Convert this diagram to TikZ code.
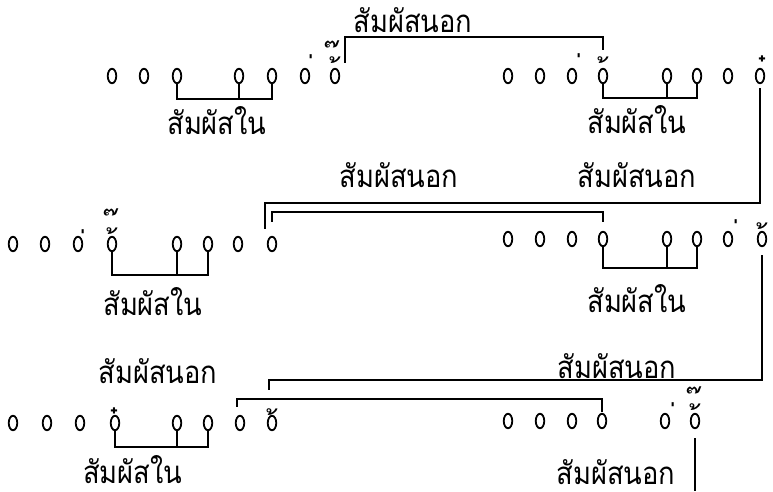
\documentclass[tikz,border=0pt]{standalone}
\usepackage{fontspec}
\usepackage{graphicx}
\newfontfamily\thai[Script=Thai]{Loma}
\usetikzlibrary{shapes.geometric}
\newcommand\tmk[4]{\node[tm] (#1) at (#2+4.6,#3+31) {\char"#4};}
\newcommand\lab[1]{\raisebox{0pt}[\height][0pt]{\scalebox{1.05}[1.2]{#1}}}
\begin{document}
\begin{tikzpicture}[x=1pt,y=-1pt,
  syl/.style={draw, ellipse, line width=1.8pt, minimum width=8.5pt, minimum height=14.5pt, inner sep=0pt},
  rl/.style={line width=1.8pt},
  lbl/.style={font=\thai\fontsize{26}{26}\selectfont, anchor=base, inner sep=0pt},
  tm/.style={font=\thai\fontsize{30}{30}\selectfont, anchor=base, inner sep=0pt}]
\useasboundingbox[fill=white] (0,0) rectangle (773,491);
% row 1 left
\foreach \n/\x in {1/112,2/144,3/177,4/239,5/272,6/305,7/335}
  \node[syl] (a\n) at (\x,76) {};
% row 1 right
\foreach \n/\x in {1/508,2/540,3/572,4/603,5/667,6/697,7/728,8/760}
  \node[syl] (b\n) at (\x,76) {};
% row 2 left
\foreach \n/\x in {1/13,2/45,3/78,4/112,5/177,6/208,7/238,8/272}
  \node[syl] (c\n) at (\x,244) {};
% row 2 right
\foreach \n/\x in {1/508,2/540,3/572,4/603,5/667,6/697,7/728,8/762}
  \node[syl] (d\n) at (\x,239) {};
% row 3 left
\foreach \n/\x in {1/13,2/47,3/80,4/115,5/177,6/208,7/240,8/272}
  \node[syl] (e\n) at (\x,423) {};
% row 3 right
\foreach \n/\x in {1/508,2/540,3/572,4/602,5/665,6/695}
  \node[syl] (f\n) at (\x,421) {};
% tone marks
\tmk{ta6}{310}{54}{0E48}
\tmk{ta7}{335}{57}{0E49}
\tmk{ta7t}{333}{41}{0E4A}
\tmk{tb3}{578}{53}{0E48}
\tmk{tb4}{603}{57}{0E49}
\tmk{tb8}{763}{55}{0E4B}
\tmk{tc3}{82}{229}{0E48}
\tmk{tc4}{112}{228}{0E49}
\tmk{tc4t}{112}{209}{0E4A}
\tmk{td7}{735}{219}{0E48}
\tmk{td8}{762}{223}{0E49}
\tmk{te4}{115}{407}{0E4B}
\tmk{te8}{272}{409}{0E49}
\tmk{tf5}{672}{402}{0E48}
\tmk{tf6}{695}{404}{0E49}
\tmk{tf6t}{695}{387}{0E4A}
% connectors
\draw[rl] ([xshift=10pt,yshift=5pt]a7.north) |- (b4.center |- 0,37) -- (b4.center |- 0,50);
\draw[rl] (a3.south) |- (a5.south |- 0,99) -- (a5.south);
\draw[rl] (a4.south) -- (a4.south |- 0,99);
\draw[rl] (b4.south) |- (b6.south |- 0,98) -- (b6.south);
\draw[rl] (b5.south) -- (b5.south |- 0,98);
\draw[rl] ([yshift=-4pt]b8.south) |- ([xshift=-7pt]c8.north |- 0,203) -- ([xshift=-7pt,yshift=7pt]c8.north);
\draw[rl] ([yshift=14pt]c8.north) |- (d4.north |- 0,212) -- ([yshift=9pt]d4.north);
\draw[rl] (c4.south) |- (c6.south |- 0,275) -- (c6.south);
\draw[rl] (c5.south) -- (c5.south |- 0,275);
\draw[rl] (d4.south) |- (d6.south |- 0,268) -- (d6.south);
\draw[rl] (d5.south) -- (d5.south |- 0,268);
\draw[rl] ([yshift=-8pt]d8.south) |- ([xshift=-3pt]e8.north |- 0,380) -- ([xshift=-3pt,yshift=25pt]e8.north);
\draw[rl] ([yshift=1pt]f4.north) |- ([xshift=-3pt]e7.north |- 0,399) -- ([xshift=-3pt,yshift=8pt]e7.north);
\draw[rl] (e4.south) |- (e6.south |- 0,447) -- (e6.south);
\draw[rl] (e5.south) -- (e5.south |- 0,447);
\coordinate (bot) at (f6.south |- 0,491);
\draw[rl] ([yshift=-9pt]f6.south) -- (bot);
% labels
\node[lbl] (L1) at (413,32) {\lab{สัมผัสนอก}};
\node[lbl] (L2) at (217,134) {\lab{สัมผัสใน}};
\node[lbl] (L3) at (637,133) {\lab{สัมผัสใน}};
\node[lbl] (L4) at (399,187) {\lab{สัมผัสนอก}};
\node[lbl] (L5) at (637,187) {\lab{สัมผัสนอก}};
\node[lbl] (L6) at (153,315) {\lab{สัมผัสใน}};
\node[lbl] (L7) at (637,312) {\lab{สัมผัสใน}};
\node[lbl] (L8) at (158,383) {\lab{สัมผัสนอก}};
\node[lbl] (L9) at (617,378) {\lab{สัมผัสนอก}};
\node[lbl] (L10) at (133,483) {\lab{สัมผัสใน}};
\node[lbl] (L11) at (616,484) {\lab{สัมผัสนอก}};
\end{tikzpicture}
\end{document}
